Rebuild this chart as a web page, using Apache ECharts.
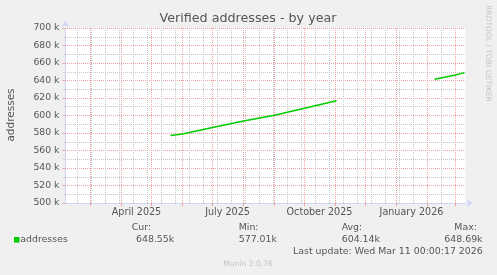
<!DOCTYPE html>
<html><head><meta charset="utf-8">
<script src="https://cdn.jsdelivr.net/npm/echarts@6/dist/echarts.min.js"></script>
<style>html,body{margin:0;padding:0;background:#f0f0f0}#c{width:497px;height:275px}</style>
</head><body><div id="c"></div>
<script>
// ---- data ----
const seriesName = 'addresses';
const seg1Dates  = ['2025-05-20','2025-06-01','2025-07-01','2025-08-01','2025-09-01','2025-10-01','2025-11-01','2025-11-02'];
const seg1Values = [577.01, 578.9, 586.4, 593.7, 600.3, 608.3, 616.6, 617.4];
const seg2Dates  = ['2026-02-08','2026-03-01','2026-03-09','2026-03-10'];
const seg2Values = [641.5, 646.4, 648.69, 648.55];
const rangeStart = '2025-02-04';
const rangeEnd   = '2026-03-11';
const monthStarts = ['2025-03-01','2025-04-01','2025-05-01','2025-06-01','2025-07-01','2025-08-01','2025-09-01','2025-10-01','2025-11-01','2025-12-01','2026-01-01','2026-02-01','2026-03-01'];
const minorDates = ['2025-02-16','2025-03-02','2025-03-16','2025-03-30','2025-04-13','2025-04-27','2025-05-11','2025-05-25','2025-06-08','2025-06-22','2025-07-06','2025-07-20','2025-08-03','2025-08-17','2025-08-31','2025-09-14','2025-09-28','2025-10-12','2025-10-26','2025-11-09','2025-11-23','2025-12-07','2025-12-21','2026-01-04','2026-01-18','2026-02-01','2026-02-15','2026-03-01'];
const labelDates = ['2025-04-16','2025-07-16','2025-10-16','2026-01-16'];
const labelTexts = ['April 2025','July 2025','October 2025','January 2026'];
const yMin = 500, yMax = 700, yStep = 20; // in k
const legendHeads = ['Cur:','Min:','Avg:','Max:'];
const legendVals  = ['648.55k','577.01k','604.14k','648.69k'];
const titleText = 'Verified addresses - by year';
const lastUpdate = 'Last update: Wed Mar 11 00:00:17 2026';

function d(s){const p=s.split('-').map(Number);return Date.UTC(p[0],p[1]-1,p[2]);}
const START=d(rangeStart), END=d(rangeEnd);
const lineData = seg1Dates.map((t,i)=>[d(t),seg1Values[i]*1000])
  .concat([[d('2025-12-15'),null]])
  .concat(seg2Dates.map((t,i)=>[d(t),seg2Values[i]*1000]));

const FONT='DejaVu Sans', TXT='#555';
const AXC='#cfd6f8', RED='#f0a0a0', GRAY='#c8c8c8';
const chart=echarts.init(document.getElementById('c'),null,{renderer:'canvas'});
const txt=(x,y,text,o)=>Object.assign({type:'text',x,y,silent:true,style:Object.assign({text,fill:TXT,font:'9.4px "'+FONT+'"',align:'left',verticalAlign:'middle'},o&&o.style||{})},o&&o.el||{});
const graphics=[
  txt(248,18.5,titleText,{style:{font:'12.7px "'+FONT+'"',align:'center'}}),
  txt(11.5,115,seriesName,{style:{font:'10.5px "'+FONT+'"',align:'center'},el:{rotation:Math.PI/2}}),
  txt(488,53.5,'RRDTOOL / TOBI OETIKER',{style:{font:'7.5px "'+FONT+'"',align:'center',fill:'#c4c4c4'},el:{rotation:-Math.PI/2}}),
  {type:'rect',shape:{x:14,y:237,width:5.5,height:5.5},style:{fill:'#00cc00'},silent:true},
  txt(20.3,240,seriesName),
  txt(131.7,227.3,legendHeads[0]), txt(136,240,legendVals[0]),
  txt(238.7,227.3,legendHeads[1]), txt(238.7,240,legendVals[1]),
  txt(341.7,227.3,legendHeads[2]), txt(341.7,240,legendVals[2]),
  txt(454.3,227.3,legendHeads[3]), txt(444.3,240,legendVals[3]),
  txt(482.7,251.7,lastUpdate,{style:{align:'right'}}),
  txt(248,264,'Munin 2.0.76',{style:{font:'7.6px "'+FONT+'"',align:'center',fill:'#c4c4c4'}})
];
chart.setOption({
  animation:false,
  backgroundColor:'#f0f0f0',
  textStyle:{fontFamily:FONT},
  grid:{left:65.5,top:28,width:400,height:175,containLabel:false,outerBoundsMode:'none',show:true,backgroundColor:'#ffffff',borderWidth:0},
  xAxis:[
    {type:'value',min:START,max:END,position:'bottom',
     axisLine:{show:false},
     axisTick:{show:true,customValues:minorDates.map(d),length:1,lineStyle:{color:GRAY}},
     axisLabel:{show:false},
     splitLine:{show:true,lineStyle:{color:GRAY,type:[1,1],width:1}}},
    {type:'value',min:START,max:END,position:'bottom',
     axisLine:{show:true,lineStyle:{color:AXC,width:1},symbol:['none','arrow'],symbolSize:[6,6],symbolOffset:[0,7]},
     axisTick:{show:true,customValues:monthStarts.map(d),length:3,lineStyle:{color:RED}},
     axisLabel:{show:true,customValues:labelDates.map(d),formatter:v=>labelTexts[labelDates.map(d).indexOf(v)]||'',color:TXT,fontSize:9.6,fontFamily:FONT,margin:4},
     splitLine:{show:true,lineStyle:{color:RED,type:[1,1],width:1}}}
  ],
  yAxis:{type:'value',min:yMin*1000,max:yMax*1000,interval:yStep*1000,
     axisLine:{show:true,lineStyle:{color:AXC,width:1},symbol:['none','arrow'],symbolSize:[6,6],symbolOffset:[0,7]},
     axisTick:{show:true,length:3,lineStyle:{color:RED}},
     axisLabel:{formatter:v=>(v/1000)+' k',color:TXT,fontSize:9.3,fontFamily:FONT,margin:6},
     splitLine:{show:true,lineStyle:{color:RED,type:[1,1],width:1,dashOffset:0.5}},
     minorTick:{show:true,splitNumber:2,length:2,lineStyle:{color:GRAY}},
     minorSplitLine:{show:true,lineStyle:{color:GRAY,type:[1,1],width:1,dashOffset:0.5}}},
  series:[{name:seriesName,type:'line',xAxisIndex:1,data:lineData,showSymbol:false,connectNulls:false,
     lineStyle:{color:'#00cc00',width:1.5},itemStyle:{color:'#00cc00'},z:5}],
  graphic:graphics
});
</script></body></html>
